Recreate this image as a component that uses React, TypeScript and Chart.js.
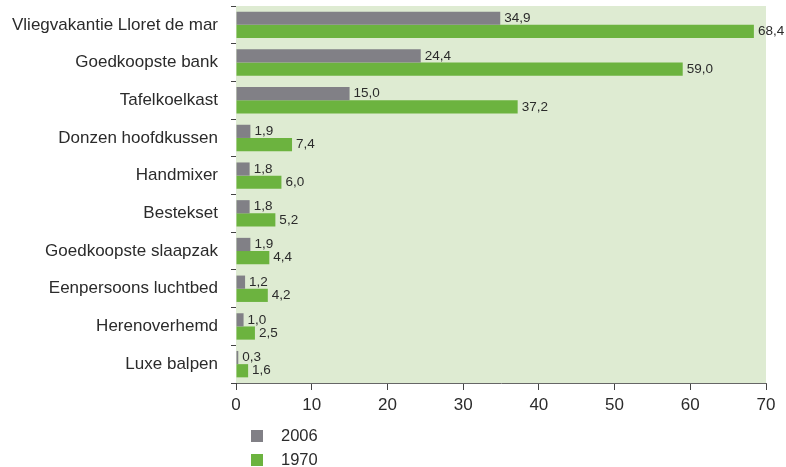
import React, { useEffect, useRef } from "react";
import { Chart, registerables } from "chart.js";

Chart.register(...registerables);

const categories = [
  "Vliegvakantie Lloret de mar",
  "Goedkoopste bank",
  "Tafelkoelkast",
  "Donzen hoofdkussen",
  "Handmixer",
  "Bestekset",
  "Goedkoopste slaapzak",
  "Eenpersoons luchtbed",
  "Herenoverhemd",
  "Luxe balpen",
];
const values2006 = [34.9, 24.4, 15.0, 1.9, 1.8, 1.8, 1.9, 1.2, 1.0, 0.3];
const values1970 = [68.4, 59.0, 37.2, 7.4, 6.0, 5.2, 4.4, 4.2, 2.5, 1.6];
const xTicks = [0, 10, 20, 30, 40, 50, 60, 70];

const FONT = "'Liberation Sans', Arial, Helvetica, sans-serif";
const GRAY = "#818086";
const GREEN = "#6cb33f";
const BG = "#deebd2";
const TEXT = "#2b2b2b";

const bgPlugin = {
  id: "bgPlugin",
  beforeDatasetsDraw(chart: any) {
    const { ctx, chartArea } = chart;
    ctx.save();
    ctx.fillStyle = BG;
    ctx.fillRect(chartArea.left, chartArea.top, chartArea.right - chartArea.left, chartArea.bottom - chartArea.top);
    ctx.restore();
  },
};

const labelPlugin = {
  id: "labelPlugin",
  afterDatasetsDraw(chart: any) {
    const { ctx } = chart;
    ctx.save();
    ctx.font = `13.5px ${FONT}`;
    ctx.fillStyle = TEXT;
    ctx.textBaseline = "middle";
    ctx.textAlign = "left";
    chart.data.datasets.forEach((ds: any, i: number) => {
      const meta = chart.getDatasetMeta(i);
      meta.data.forEach((bar: any, j: number) => {
        const v = ds.data[j] as number;
        ctx.fillText(v.toFixed(1).replace(".", ","), bar.x + 4, bar.y);
      });
    });
    ctx.restore();
  },
};

const legendPlugin = {
  id: "legendPlugin",
  afterDraw(chart: any) {
    const { ctx } = chart;
    ctx.save();
    ctx.font = `16.5px ${FONT}`;
    ctx.textBaseline = "middle";
    ctx.textAlign = "left";
    chart.data.datasets.forEach((ds: any, i: number) => {
      const y = 436 + i * 24;
      ctx.fillStyle = ds.backgroundColor;
      ctx.fillRect(251, y - 6, 12, 12);
      ctx.fillStyle = TEXT;
      ctx.fillText(ds.label, 281, y);
    });
    ctx.restore();
  },
};

export default function App() {
  const ref = useRef<HTMLCanvasElement | null>(null);
  useEffect(() => {
    if (!ref.current) return;
    const chart = new Chart(ref.current, {
      type: "bar",
      data: {
        labels: categories,
        datasets: [
          { label: "2006", data: values2006, backgroundColor: GRAY, barPercentage: 1, categoryPercentage: 0.7 },
          { label: "1970", data: values1970, backgroundColor: GREEN, barPercentage: 1, categoryPercentage: 0.7 },
        ],
      },
      options: {
        indexAxis: "y",
        animation: false,
        responsive: false,
        maintainAspectRatio: false,
        layout: { padding: { top: 6, right: 20, left: 0, bottom: 0 } },
        plugins: { legend: { display: false }, tooltip: { enabled: false } },
        scales: {
          x: {
            min: 0,
            max: 70,
            afterBuildTicks(axis: any) {
              axis.ticks = xTicks.map((v) => ({ value: v }));
            },
            afterFit(axis: any) {
              axis.height = 84;
            },
            grid: { drawOnChartArea: false, tickLength: 7, color: "#444", tickWidth: 1 },
            border: { display: true, color: "#666", width: 1 },
            ticks: { font: { family: FONT, size: 17 }, color: TEXT, padding: 5, maxRotation: 0 },
          },
          y: {
            afterFit(axis: any) {
              axis.width = 236;
              axis.paddingTop = 0;
              axis.paddingBottom = 0;
            },
            grid: { drawOnChartArea: false, tickLength: 5, color: "#444", offset: true },
            border: { display: true, color: "#444", width: 1 },
            ticks: { font: { family: FONT, size: 17 }, color: TEXT, padding: 13 },
          },
        },
      },
      plugins: [bgPlugin, labelPlugin, legendPlugin],
    });
    return () => chart.destroy();
  }, []);
  return (
    <div style={{ position: "absolute", left: 0, top: 0, width: 786, height: 467, background: "#fff" }}>
      <canvas ref={ref} width={786} height={467} style={{ width: 786, height: 467 }} />
    </div>
  );
}
